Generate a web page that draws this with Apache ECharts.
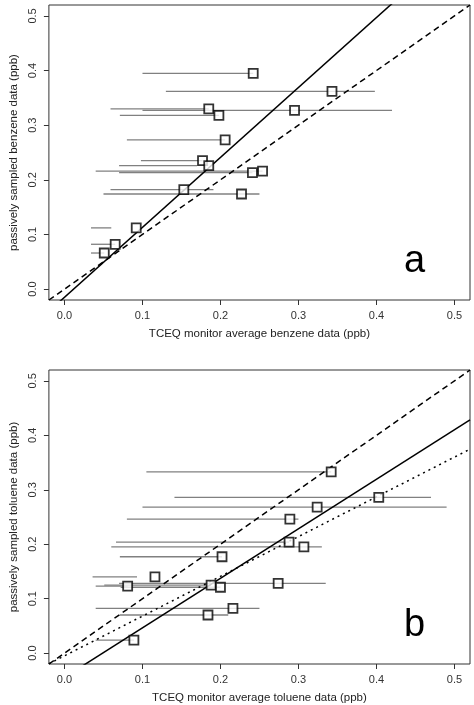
<!DOCTYPE html>
<html><head><meta charset="utf-8">
<script src="https://cdn.jsdelivr.net/npm/echarts@6/dist/echarts.min.js"></script>
<style>html,body{margin:0;padding:0;background:#fff}#c{width:474px;height:705px}</style>
</head><body><div id="c"></div>
<script>
// Panel a: benzene  [x, y, xmin, xmax]
const benzene = [
 [0.242,0.395,0.100,0.242],[0.343,0.362,0.130,0.398],[0.185,0.330,0.059,0.185],
 [0.295,0.327,0.100,0.420],[0.198,0.318,0.071,0.198],[0.206,0.273,0.080,0.206],
 [0.177,0.235,0.098,0.177],[0.185,0.226,0.070,0.170],[0.241,0.213,0.070,0.241],
 [0.254,0.216,0.040,0.254],[0.153,0.182,0.059,0.191],[0.227,0.174,0.050,0.250],
 [0.092,0.112,0.034,0.060],[0.065,0.082,0.034,0.065],[0.051,0.066,0.034,0.051]
];
// Panel b: toluene
const toluene = [
 [0.342,0.333,0.105,0.342],[0.403,0.286,0.141,0.470],[0.324,0.268,0.100,0.490],
 [0.289,0.246,0.080,0.300],[0.288,0.204,0.066,0.288],[0.307,0.195,0.060,0.330],
 [0.202,0.177,0.071,0.202],[0.116,0.140,0.036,0.093],[0.081,0.123,0.040,0.081],
 [0.188,0.125,0.051,0.188],[0.200,0.121,0.072,0.200],[0.274,0.128,0.070,0.335],
 [0.216,0.082,0.040,0.250],[0.184,0.070,0.071,0.210],[0.089,0.024,0.040,0.089]
];
const tickVals = [0,0.1,0.2,0.3,0.4,0.5];
const tickLabels = ['0.0','0.1','0.2','0.3','0.4','0.5'];
// fit lines [slope, intercept, style]
const fitsA = [[1.28,-0.015,'solid'],[1,0,'dashed']];
const fitsB = [[0.909,-0.0445,'solid'],[1,0,'dashed'],[0.73,-0.005,'dotted']];
const lo=-0.02, hi=0.52;
const font='Liberation Sans, Arial, sans-serif';

function axes(idx, xname, yname){
  const common = {min:lo,max:hi,gridIndex:idx,splitLine:{show:false},
    axisLine:{show:false,onZero:false},
    axisTick:{show:true,length:5,inside:false,customValues:tickVals,lineStyle:{color:'#333'}},
    axisLabel:{customValues:tickVals,formatter:v=>tickLabels[tickVals.findIndex(t=>Math.abs(t-v)<1e-6)],
      color:'#333',fontSize:11,fontFamily:font}};
  return {
    x:Object.assign({},common,{type:'value',name:xname,nameLocation:'middle',nameGap:28,
      nameTextStyle:{fontSize:11.5,color:'#222',fontFamily:font},
      axisLabel:Object.assign({},common.axisLabel,{margin:10})}),
    y:Object.assign({},common,{type:'value',name:yname,nameLocation:'middle',nameGap:28,
      nameTextStyle:{fontSize:11.5,color:'#222',fontFamily:font},
      axisLabel:Object.assign({},common.axisLabel,{rotate:90,margin:10})})
  };
}
const A=axes(0,'TCEQ monitor average benzene data (ppb)','passively sampled benzene data (ppb)');
const B=axes(1,'TCEQ monitor average toluene data (ppb)','passively sampled toluene data (ppb)');

function seriesFor(data,fits,idx){
  const s=[];
  s.push({type:'custom',xAxisIndex:idx,yAxisIndex:idx,data:data.map(d=>[d[2],d[3],d[1]]),
    renderItem:(p,api)=>{const a=api.coord([api.value(0),api.value(2)]),b=api.coord([api.value(1),api.value(2)]);
      return {type:'line',shape:{x1:a[0],y1:a[1],x2:b[0],y2:b[1]},style:{stroke:'#808080',lineWidth:1.3}};},
    silent:true,z:1});
  fits.forEach(f=>{
    s.push({type:'line',xAxisIndex:idx,yAxisIndex:idx,symbol:'none',clip:true,silent:true,z:2,
      data:[[lo,f[0]*lo+f[1]],[hi,f[0]*hi+f[1]]],
      lineStyle:{color:'#000',width:1.5,type:f[2]==='dashed'?[6,4]:(f[2]==='dotted'?[2,4]:'solid')}});
  });
  s.push({type:'scatter',xAxisIndex:idx,yAxisIndex:idx,data:data.map(d=>[d[0],d[1]]),symbol:'rect',symbolSize:9,
    itemStyle:{color:'#fff',borderColor:'#000',borderWidth:1.8},z:3,silent:true});
  return s;
}

const chart=echarts.init(document.getElementById('c'),null,{renderer:'canvas'});
chart.setOption({
  animation:false,backgroundColor:'#fff',
  grid:[{left:39,right:4,top:5,height:295,show:true,borderColor:'#333',borderWidth:1},
        {left:39,right:4,top:370,height:295,show:true,borderColor:'#333',borderWidth:1}],
  xAxis:[A.x,B.x], yAxis:[A.y,B.y],
  graphic:[{type:'text',left:404,top:243,style:{text:'a',fontSize:38,fontFamily:font,fill:'#000'}},
           {type:'text',left:404,top:607,style:{text:'b',fontSize:38,fontFamily:font,fill:'#000'}}],
  series:[...seriesFor(benzene,fitsA,0),...seriesFor(toluene,fitsB,1)]
});
</script></body></html>
